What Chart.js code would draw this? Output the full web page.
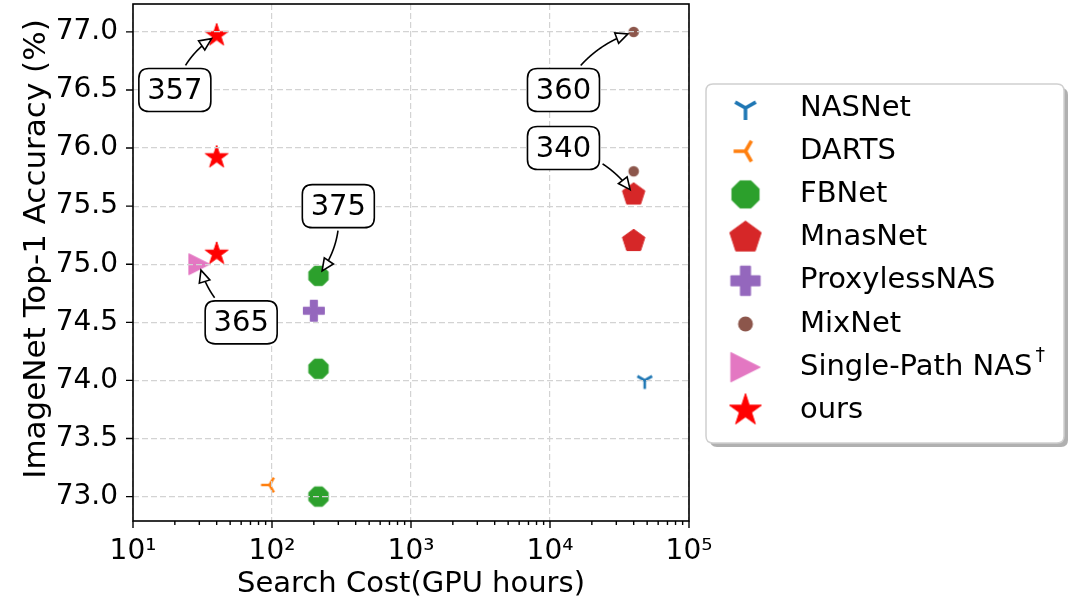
<!DOCTYPE html>
<html>
<head>
<meta charset="utf-8">
<script src="https://cdn.jsdelivr.net/npm/chart.js@4.4.1/dist/chart.umd.min.js"></script>
<style>
  html, body { margin: 0; padding: 0; background: #fff; }
  #wrap { width: 1080px; height: 605px; }
</style>
</head>
<body>
<div id="wrap"><canvas id="nasChart" width="1080" height="605"></canvas></div>
<script>
const FONT = "'DejaVu Sans', sans-serif";

// series (search cost in GPU hours, ImageNet top-1 %)
const nasnetCost = [48000];           const nasnetTop1 = [74.0];
const dartsCost = [96];               const dartsTop1 = [73.1];
const fbnetCost = [216, 216, 216];    const fbnetTop1 = [74.9, 74.1, 73.0];
const mnasnetCost = [40000, 40000];   const mnasnetTop1 = [75.6, 75.2];
const proxylessCost = [200];          const proxylessTop1 = [74.6];
const mixnetCost = [40000, 40000];    const mixnetTop1 = [77.0, 75.8];
const singlePathCost = [30];          const singlePathTop1 = [75.0];
const oursCost = [40, 40, 40];        const oursTop1 = [76.97, 75.92, 75.09];

const methods = ["NASNet", "DARTS", "FBNet", "MnasNet", "ProxylessNAS", "MixNet", "Single-Path NAS†", "ours"];
const latencyLabels = ["357", "360", "340", "375", "365"];

const xTickValues = [10, 100, 1000, 10000, 100000];
const xTickLabels = ["10¹", "10²", "10³", "10⁴", "10⁵"];
const yTickValues = [73.0, 73.5, 74.0, 74.5, 75.0, 75.5, 76.0, 76.5, 77.0];
const yTickLabels = ["73.0", "73.5", "74.0", "74.5", "75.0", "75.5", "76.0", "76.5", "77.0"];
const yTitle = "ImageNet Top-1 Accuracy (%)";

// styling
const colors = ["#1f77b4", "#ff7f0e", "#2ca02c", "#d62728", "#9467bd", "#8c564b", "#e377c2", "#ff0000"];
const markers = ["tri_down", "tri_left", "octagon", "pentagon", "plus", "circle", "tri_right", "star"];

// annotation boxes: which point they point at, and where the box sits (data coords)
const notes = [
  { text: latencyLabels[0], series: 7, point: 0, x: 20, y: 76.5 },
  { text: latencyLabels[1], series: 5, point: 0, x: 12500, y: 76.5 },
  { text: latencyLabels[2], series: 3, point: 0, x: 12500, y: 76.0 },
  { text: latencyLabels[3], series: 2, point: 0, x: 300, y: 75.5 },
  { text: latencyLabels[4], series: 6, point: 0, x: 60, y: 74.5 }
];

// minor ticks for the log axis (1..9 x 10^n)
const xAllTicks = [];
for (let n = 1; n <= 4; n++) {
  for (let k = 1; k <= 9; k++) xAllTicks.push(k * Math.pow(10, n));
}
xAllTicks.push(100000);
const isDecade = v => Math.abs(Math.log10(v) - Math.round(Math.log10(v))) < 1e-9;

function makeMarker(kind, color, k) {
  const S = Math.ceil(34 * k);
  const c = document.createElement("canvas");
  c.width = S; c.height = S;
  const g = c.getContext("2d");
  g.translate(S / 2, S / 2);
  g.fillStyle = color;
  g.strokeStyle = color;
  const poly = pts => {
    g.beginPath();
    pts.forEach(([x, y], i) => (i ? g.lineTo(x, y) : g.moveTo(x, y)));
    g.closePath();
    g.fill();
    g.lineWidth = 1;
    g.stroke();
  };
  const ring = (n, R, a0) => Array.from({ length: n }, (_, i) => {
    const a = a0 + i * 2 * Math.PI / n;
    return [R * Math.cos(a), R * Math.sin(a)];
  });
  if (kind === "tri_down" || kind === "tri_left") {
    const r = 8.5 * k;
    const dirs = kind === "tri_down"
      ? [[0, 1], [-0.866, -0.5], [0.866, -0.5]]
      : [[-1, 0], [0.5, -0.866], [0.5, 0.866]];
    g.lineWidth = 2.6 * k;
    g.beginPath();
    dirs.forEach(([dx, dy]) => { g.moveTo(0, 0); g.lineTo(dx * r, dy * r); });
    g.stroke();
  } else if (kind === "octagon") {
    poly(ring(8, 10.5 * k, Math.PI / 8));
  } else if (kind === "pentagon") {
    poly(ring(5, 11.8 * k, -Math.PI / 2));
  } else if (kind === "plus") {
    const t = 3.6 * k, L = 10.5 * k;
    poly([[-t, -L], [t, -L], [t, -t], [L, -t], [L, t], [t, t], [t, L], [-t, L], [-t, t], [-L, t], [-L, -t], [-t, -t]]);
  } else if (kind === "circle") {
    g.beginPath();
    g.arc(0, 0, 5.3 * k, 0, Math.PI * 2);
    g.fill();
  } else if (kind === "tri_right") {
    poly([[10.5 * k, 0], [-10.5 * k, -10.5 * k], [-10.5 * k, 10.5 * k]]);
  } else if (kind === "star") {
    const R = 12 * k, r = R * 0.382;
    poly(Array.from({ length: 10 }, (_, i) => {
      const a = -Math.PI / 2 + i * Math.PI / 5;
      const rr = i % 2 ? r : R;
      return [rr * Math.cos(a), rr * Math.sin(a)];
    }));
  }
  return c;
}

const seriesCost = [nasnetCost, dartsCost, fbnetCost, mnasnetCost, proxylessCost, mixnetCost, singlePathCost, oursCost];
const seriesTop1 = [nasnetTop1, dartsTop1, fbnetTop1, mnasnetTop1, proxylessTop1, mixnetTop1, singlePathTop1, oursTop1];

const datasets = methods.map((name, i) => ({
  label: name,
  data: seriesCost[i].map((c, j) => ({ x: c, y: seriesTop1[i][j] })),
  pointStyle: makeMarker(markers[i], colors[i], 1),
  pointRadius: 10,
  borderColor: colors[i],
  backgroundColor: colors[i]
}));
const legendMarkers = methods.map((name, i) => makeMarker(markers[i], colors[i], 1.4));

function roundRect(g, x, y, w, h, r) {
  g.beginPath();
  g.moveTo(x + r, y);
  g.lineTo(x + w - r, y);
  g.quadraticCurveTo(x + w, y, x + w, y + r);
  g.lineTo(x + w, y + h - r);
  g.quadraticCurveTo(x + w, y + h, x + w - r, y + h);
  g.lineTo(x + r, y + h);
  g.quadraticCurveTo(x, y + h, x, y + h - r);
  g.lineTo(x, y + r);
  g.quadraticCurveTo(x, y, x + r, y);
  g.closePath();
}

const zeroPad = s => { s.paddingLeft = 0; s.paddingRight = 0; s.paddingTop = 0; s.paddingBottom = 0; };

const decorPlugin = {
  id: "decor",
  afterDraw(chart) {
    const g = chart.ctx;
    const { left, right, top, bottom } = chart.chartArea;
    const xs = chart.scales.x, ys = chart.scales.y;

    // tick marks
    g.save();
    g.strokeStyle = "#000";
    g.lineWidth = 1.4;
    g.beginPath();
    xs.ticks.forEach(t => {
      const px = xs.getPixelForValue(t.value);
      const len = isDecade(t.value) ? 7 : 4;
      g.moveTo(px, bottom);
      g.lineTo(px, bottom + len);
    });
    ys.ticks.forEach(t => {
      const py = ys.getPixelForValue(t.value);
      g.moveTo(left, py);
      g.lineTo(left - 7, py);
    });
    g.stroke();

    // frame
    g.lineWidth = 1.6;
    g.strokeRect(left, top, right - left, bottom - top);

    // y axis title (sits a little above the axis centre, as in the original)
    g.translate(37, 249);
    g.rotate(-Math.PI / 2);
    g.fillStyle = "#000";
    g.font = "31px " + FONT;
    g.textAlign = "center";
    g.textBaseline = "middle";
    g.fillText(yTitle, 0, 0);
    g.restore();

    // annotations
    notes.forEach(n => {
      const el = chart.getDatasetMeta(n.series).data[n.point];
      const tx = el.x, ty = el.y;
      const cx = xs.getPixelForValue(n.x), cy = ys.getPixelForValue(n.y);
      const bw = 72, bh = 43;
      const dx = tx - cx, dy = ty - cy;
      const qx = (cx + tx) / 2 + 0.2 * dy, qy = (cy + ty) / 2 - 0.2 * dx;
      const at = t => [
        (1 - t) * (1 - t) * cx + 2 * (1 - t) * t * qx + t * t * tx,
        (1 - t) * (1 - t) * cy + 2 * (1 - t) * t * qy + t * t * ty
      ];
      const pts = [];
      for (let i = 0; i <= 400; i++) {
        const p = at(i / 400);
        const inside = Math.abs(p[0] - cx) < bw / 2 + 3 && Math.abs(p[1] - cy) < bh / 2 + 3;
        const far = Math.hypot(p[0] - tx, p[1] - ty) >= 6;
        if (!inside && far) pts.push(p);
      }
      const tip = pts[pts.length - 1];
      const prev = pts[Math.max(0, pts.length - 8)];
      let ux = tip[0] - prev[0], uy = tip[1] - prev[1];
      const ul = Math.hypot(ux, uy) || 1;
      ux /= ul; uy /= ul;
      const hl = 12, hw = 5.5;
      const bx = tip[0] - ux * hl, by = tip[1] - uy * hl;
      g.save();
      g.strokeStyle = "#000";
      g.lineWidth = 1.6;
      g.beginPath();
      let started = false;
      for (const p of pts) {
        if (Math.hypot(p[0] - tip[0], p[1] - tip[1]) < hl) break;
        if (!started) { g.moveTo(p[0], p[1]); started = true; } else g.lineTo(p[0], p[1]);
      }
      g.lineTo(bx, by);
      g.stroke();
      g.beginPath();
      g.moveTo(tip[0], tip[1]);
      g.lineTo(bx - uy * hw, by + ux * hw);
      g.lineTo(bx + uy * hw, by - ux * hw);
      g.closePath();
      g.fillStyle = "#fff";
      g.fill();
      g.stroke();

      roundRect(g, cx - bw / 2, cy - bh / 2, bw, bh, 10);
      g.fill();
      g.stroke();
      g.fillStyle = "#000";
      g.font = "29px " + FONT;
      g.textAlign = "center";
      g.textBaseline = "middle";
      g.fillText(n.text, cx, cy + 1);
      g.restore();
    });

    // legend
    const lx = 706, ly = 84, lw = 358, lh = 359;
    g.save();
    roundRect(g, lx + 4, ly + 4, lw, lh, 7);
    g.fillStyle = "#b0b0b0";
    g.fill();
    roundRect(g, lx, ly, lw, lh, 7);
    g.fillStyle = "#fff";
    g.fill();
    g.strokeStyle = "#d0d0d0";
    g.lineWidth = 1.5;
    g.stroke();
    g.fillStyle = "#000";
    g.textAlign = "left";
    g.textBaseline = "middle";
    methods.forEach((name, i) => {
      const ry = 108 + 43.2 * i;
      const m = legendMarkers[i];
      g.drawImage(m, 745.5 - m.width / 2, ry - m.height / 2);
      g.font = "29px " + FONT;
      if (name.endsWith("†")) {
        const base = name.slice(0, -1);
        g.fillText(base, 800, ry);
        const w = g.measureText(base).width;
        g.font = "19px " + FONT;
        g.fillText("†", 800 + w + 3, ry - 11);
      } else {
        g.fillText(name, 800, ry);
      }
    });
    g.restore();
  }
};

new Chart(document.getElementById("nasChart"), {
  type: "scatter",
  data: { datasets },
  plugins: [decorPlugin],
  options: {
    responsive: false,
    animation: false,
    events: [],
    layout: { autoPadding: false, padding: { left: 0, top: 4, right: 391, bottom: 0 } },
    plugins: { legend: { display: false }, tooltip: { enabled: false } },
    scales: {
      x: {
        type: "logarithmic",
        min: 10,
        max: 100000,
        afterBuildTicks: s => { s.ticks = xAllTicks.map(v => ({ value: v })); },
        afterFit: s => { s.height = 84; zeroPad(s); },
        grid: {
          z: 1,
          drawTicks: false,
          lineWidth: 1.2,
          color: ctx => (ctx.tick && isDecade(ctx.tick.value) ? "#d3d3d3" : "rgba(0,0,0,0)")
        },
        border: { display: false, dash: [6, 3] },
        ticks: {
          autoSkip: false,
          maxRotation: 0,
          padding: 14,
          color: "#000",
          font: { family: FONT, size: 28 },
          callback: v => {
            const i = xTickValues.findIndex(t => Math.abs(t - v) < 1e-6);
            return i >= 0 ? xTickLabels[i] : "";
          }
        },
        title: {
          display: true,
          text: "Search Cost(GPU hours)",
          color: "#000",
          font: { family: FONT, size: 29 },
          padding: { top: 0, bottom: 3 }
        }
      },
      y: {
        min: 72.79,
        max: 77.24,
        afterBuildTicks: s => { s.ticks = yTickValues.map(v => ({ value: v })); },
        afterFit: s => { s.width = 133; zeroPad(s); },
        grid: { z: 1, drawTicks: false, lineWidth: 1.2, color: "#d3d3d3" },
        border: { display: false, dash: [6, 3] },
        ticks: {
          padding: 15,
          color: "#000",
          font: { family: FONT, size: 28 },
          callback: v => {
            const i = yTickValues.findIndex(t => Math.abs(t - v) < 1e-6);
            return i >= 0 ? yTickLabels[i] : "";
          }
        }
      }
    }
  }
});
</script>
</body>
</html>
